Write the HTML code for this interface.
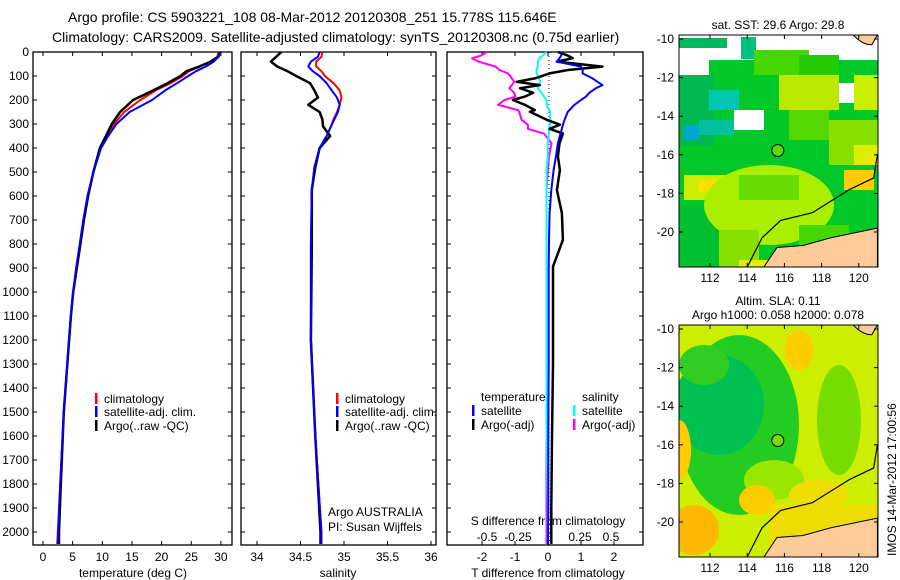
<!DOCTYPE html>
<html><head><meta charset="utf-8"><style>
html,body{margin:0;padding:0;background:#fff;}
svg{display:block;font-family:"Liberation Sans",sans-serif;}
</style></head><body>
<svg id="c" width="900" height="580" viewBox="0 0 900 580">
<text x="68" y="22" font-size="14">Argo profile: CS 5903221_108 08-Mar-2012 20120308_251 15.778S 115.646E</text>
<text x="52" y="42" font-size="14">Climatology: CARS2009. Satellite-adjusted climatology: synTS_20120308.nc (0.75d earlier)</text>
<g id="g"></g>
</svg>
<script>
// ---- data ----
const tDepth=[0,20,40,60,80,100,130,160,200,250,300,350,400,500,600,700,800,900,1000,1100,1200,1500,1800,2000,2050];
const tClim=[29.6,29.4,28.2,26.5,24.6,23.6,21.5,19,16.4,13.7,12.0,10.8,9.7,8.5,7.5,6.8,6.2,5.6,5.1,4.7,4.4,3.5,2.9,2.5,2.4];
const tSat=[29.8,29.6,28.8,27.5,25.8,24.5,22.6,20.6,18.4,14.6,12.4,11.0,9.8,8.5,7.5,6.8,6.2,5.6,5.1,4.7,4.4,3.5,2.9,2.6,2.5];
const tArgo=[29.8,29.6,28.3,26.4,24.2,23.2,21.0,18.6,15.2,13.0,11.6,10.6,9.6,8.5,7.6,6.9,6.3,5.7,5.1,4.7,4.4,3.5,3.0,2.7,2.7];
const sDepth=[0,20,40,60,80,100,130,160,190,220,250,280,310,350,400,480,575,800,1200,1600,2000,2050];
const sClim=[34.75,34.74,34.68,34.68,34.74,34.78,34.88,34.95,34.97,34.95,34.92,34.88,34.85,34.80,34.72,34.66,34.63,34.62,34.62,34.67,34.74,34.74];
const sSat=[34.72,34.70,34.62,34.59,34.64,34.72,34.80,34.86,34.92,34.95,34.93,34.89,34.85,34.80,34.72,34.66,34.63,34.62,34.62,34.67,34.74,34.74];
const sArgo=[34.28,34.22,34.16,34.23,34.35,34.45,34.61,34.66,34.70,34.59,34.72,34.75,34.76,34.84,34.72,34.67,34.63,34.63,34.62,34.67,34.73,34.73];
const dDepth=[0,15,26,40,61,75,89,110,124,138,151,170,186,200,220,242,249,283,303,320,340,380,436,492,575,672,783,894,1061,1300,1600,1900,2050];
const dtSat=[0.42,0.40,0.35,0.27,1.0,1.05,1.05,1.35,1.5,1.65,1.45,1.25,1.15,1.0,0.8,0.65,0.6,0.5,0.45,0.42,0.38,0.3,0.24,0.17,0.1,0.05,0.03,0.02,0.02,0.02,0.01,0.01,0.0];
const dtArgo=[0.3,0.6,0.75,0.27,1.65,0.6,0.05,-0.4,-0.95,-0.25,-0.85,-0.45,-0.7,-1.06,-0.7,-0.4,-0.55,-0.03,0.36,0.05,0.45,0.35,0.3,0.36,0.27,0.42,0.45,0.15,0.15,0.15,0.12,0.10,0.1];
const dsSat=[-0.02,-0.05,-0.08,-0.09,-0.09,-0.10,-0.10,-0.08,-0.07,-0.09,-0.09,-0.06,-0.04,-0.02,-0.02,0,0.01,0.01,0.01,0,0,-0.01,-0.01,-0.02,-0.02,-0.02,-0.02,-0.02,-0.02,-0.02,-0.02,-0.01,-0.01];
const dsArgo=[-0.50,-0.55,-0.62,-0.57,-0.43,-0.40,-0.33,-0.30,-0.28,-0.30,-0.32,-0.28,-0.27,-0.36,-0.41,-0.25,-0.24,-0.22,-0.17,-0.17,-0.04,0.02,0.0,-0.01,-0.02,-0.02,-0.02,-0.02,-0.02,-0.02,-0.02,-0.02,-0.02];
const depthTicks=[0,100,200,300,400,500,600,700,800,900,1000,1100,1200,1300,1400,1500,1600,1700,1800,1900,2000];
const tTicks=[0,5,10,15,20,25,30];
const sTicks=["34","34.5","35","35.5","36"];
const dtTicks=[-2,-1,0,1,2];
const dsTicks=["-0.5","-0.25","0","0.25","0.5"];
const latTicks=[-10,-12,-14,-16,-18,-20];
const lonTicks=[112,114,116,118,120];

const NS="http://www.w3.org/2000/svg";
const G=document.getElementById('g');
function mk(t,a,p){const e=document.createElementNS(NS,t);for(const k in a)e.setAttribute(k,a[k]);(p||G).appendChild(e);return e;}
const TOP=52,BOT=545;
const yD=d=>TOP+d*0.24;
const xT=v=>43+5.93*v;
const xS=v=>257+87*(v-34);
const xDT=v=>548+33*v;
const xDS=v=>549+124*v;

function panel(x0,x1,name){
  const r=mk('rect',{x:x0,y:TOP,width:x1-x0,height:BOT-TOP,fill:'none',stroke:'#000','stroke-width':1.3});
  
  
}
function line(xs,ds,fx,col,w,name){
  const pts=xs.map((v,i)=>fx(v).toFixed(1)+','+yD(ds[i]).toFixed(1)).join(' ');
  const p=mk('polyline',{points:pts,fill:'none',stroke:col,'stroke-width':w,'stroke-linejoin':'round'});
  
  
}
function txt(x,y,s,sz,anchor,name,extra){
  const t=mk('text',Object.assign({x:x,y:y,'font-size':sz,'text-anchor':anchor||'start'},extra||{}));
  t.textContent=s;
  
  
  return t;
}
panel(33,232,'temperature-panel');panel(241,436,'salinity-panel');panel(447,643,'difference-panel');
depthTicks.forEach(d=>{
  const y=yD(d);
  [[33,1],[232,-1],[241,1],[436,-1],[447,1],[643,-1]].forEach(([x,s])=>mk('line',{x1:x,y1:y,x2:x+4*s,y2:y,stroke:'#000'}));
  txt(29,y+4,String(d),12,'end','depth-tick-label');
});
tTicks.forEach(v=>{const x=xT(v);mk('line',{x1:x,y1:BOT,x2:x,y2:BOT-4,stroke:'#000'});mk('line',{x1:x,y1:TOP,x2:x,y2:TOP+4,stroke:'#000'});txt(x,561,String(v),12,'middle','temperature-tick-label');});
txt(133,577,'temperature (deg C)',12,'middle','temperature-axis-title');
sTicks.forEach(v=>{const x=xS(+v);mk('line',{x1:x,y1:BOT,x2:x,y2:BOT-4,stroke:'#000'});mk('line',{x1:x,y1:TOP,x2:x,y2:TOP+4,stroke:'#000'});txt(x,561,v,12,'middle','salinity-tick-label');});
txt(338,577,'salinity',12,'middle','salinity-axis-title');
dtTicks.forEach(v=>{const x=xDT(v);mk('line',{x1:x,y1:BOT,x2:x,y2:BOT-4,stroke:'#000'});mk('line',{x1:x,y1:TOP,x2:x,y2:TOP+4,stroke:'#000'});txt(x,561,String(v),12,'middle','t-diff-tick-label');});
dsTicks.forEach(v=>{txt(xDS(+v),541,v,12,'middle','s-diff-tick-label');});
txt(548,525,'S difference from climatology',12,'middle','s-diff-axis-title');
txt(548,577,'T difference from climatology',12,'middle','t-diff-axis-title');
mk('line',{x1:549,y1:TOP,x2:549,y2:BOT,stroke:'#000','stroke-dasharray':'1,3'});
line(tClim,tDepth,xT,'#ff0000',2,'temp-climatology-line');
line(tArgo,tDepth,xT,'#000',2.5,'temp-argo-line');
line(tSat,tDepth,xT,'#0000ff',2,'temp-satellite-line');
line(sClim,sDepth,xS,'#ff0000',2,'sal-climatology-line');
line(sArgo,sDepth,xS,'#000',2.5,'sal-argo-line');
line(sSat,sDepth,xS,'#0000ff',2,'sal-satellite-line');
line(dsArgo,dDepth,xDS,'#ff00ff',2,'s-diff-argo-line');
line(dsSat,dDepth,xDS,'#00ffff',2,'s-diff-satellite-line');
line(dtArgo,dDepth,xDT,'#000',2.5,'t-diff-argo-line');
line(dtSat,dDepth,xDT,'#0000ff',2,'t-diff-satellite-line');
function leg(x,y,col,label,name){if(col)mk('rect',{x:x-9,y:y-10,width:2.5,height:11,fill:col});txt(x,y,label,12,'start',name);}
leg(104,403,'#f00','climatology','legend-climatology');leg(104,416,'#00f','satellite-adj. clim.','legend-satellite');leg(104,430,'#000','Argo(..raw -QC)','legend-argo');
leg(345,403,'#f00','climatology','legend-climatology-2');leg(345,416,'#00f','satellite-adj. clim.','legend-satellite-2');leg(345,430,'#000','Argo(..raw -QC)','legend-argo-2');
leg(481,401,null,'temperature','legend-temperature');leg(481,415,'#00f','satellite','legend-t-satellite');leg(481,429,'#000','Argo(-adj)','legend-t-argo');
leg(582,401,null,'salinity','legend-salinity');leg(582,415,'#0ff','satellite','legend-s-satellite');leg(582,429,'#f0f','Argo(-adj)','legend-s-argo');
txt(328,516,'Argo AUSTRALIA',12,'start','argo-program-label');
txt(328,531,'PI: Susan Wijffels',12,'start','pi-label');

function map(y0,title1,title2,kind,name){
  const x0=679,x1=878,y1=y0+232,lat0=y0+4;
  const lx=v=>710+18.6*(v-112), ly=v=>lat0+19.3*(-10-v);
  const g=mk('g',{});
  const cp='cp'+y0;const c=mk('clipPath',{id:cp},g);mk('rect',{x:x0,y:y0,width:x1-x0,height:y1-y0},c);
  const inner=mk('g',{'clip-path':'url(#'+cp+')'},g);
  const R=(x,y,w,h,f)=>mk('rect',{x:x0+x,y:y0+y,width:w,height:h,fill:f},inner);
  const E=(x,y,rx,ry,f)=>mk('ellipse',{cx:x0+x,cy:y0+y,rx:rx,ry:ry,fill:f},inner);
  if(kind==='sst'){
    R(0,0,200,232,'#00c828');
    R(0,0,200,25,'#ffffff');R(0,25,30,25,'#ffffff');R(150,55,50,10,'#ffffff');
    R(0,3,48,10,'#00b860');R(62,2,15,22,'#00c080');
    R(75,15,55,25,'#44d800');R(120,20,40,20,'#22cc00');R(150,48,30,20,'#ffffff');
    R(0,40,35,70,'#00b850');R(30,55,30,20,'#00c8b0');R(20,85,35,15,'#00c0a0');R(5,90,15,15,'#00a8d0');
    R(100,40,60,35,'#bbe800');R(175,40,25,35,'#ccee00');R(110,75,40,30,'#55d800');
    R(55,75,30,20,'#ffffff');R(150,85,50,45,'#88e000');R(165,135,30,20,'#ffcc00');R(175,110,25,20,'#ddee00');
    R(5,140,50,25,'#ccee00');R(20,145,20,12,'#ffdd00');R(0,170,60,62,'#00c030');
    E(90,170,65,40,'#aaee00');R(60,140,60,25,'#66dd00');
    R(40,195,40,37,'#88e000');R(120,190,50,30,'#44d800');R(60,225,40,10,'#ddee00');
  }else{
    R(0,0,200,232,'#ccee00');
    E(60,100,60,90,'#22cc22');E(40,80,45,50,'#00c050');E(25,40,25,20,'#33cc22');
    E(0,125,12,30,'#ffcc00');E(165,90,12,40,'#33cc22');E(160,95,22,55,'#77dd00');
    E(120,25,14,20,'#ffcc00');E(95,155,30,20,'#99e600');
    E(78,175,18,15,'#ffcc00');E(15,205,25,25,'#ffb800');E(140,170,30,15,'#eedd00');
    R(90,180,110,55,'#eedd00');
  }
  mk('path',{d:`M${lx(114.9)},${y1} L${lx(115.6)},${ly(-20.8)} L${lx(117)},${ly(-20.7)} L${lx(118.5)},${ly(-20.3)} L${lx(121)},${ly(-19.8)} L${lx(121)},${y1} Z`,fill:'#ffcc99',stroke:'#000','stroke-width':1},inner);
  mk('path',{d:`M${lx(119.7)},${y0} Q${lx(120.2)},${ly(-10.3)} ${lx(120.7)},${ly(-10.3)} L${lx(121)},${y0} Z`,fill:'#ffcc99',stroke:'#000'},inner);
  mk('polyline',{points:`${lx(114)},${y1} ${lx(114.8)},${ly(-20.3)} ${lx(115.8)},${ly(-19.4)} ${lx(117.5)},${ly(-19)} ${lx(119.5)},${ly(-17.8)} ${lx(120.8)},${ly(-17.2)} ${lx(121)},${ly(-16)}`,fill:'none',stroke:'#000','stroke-width':1.2},inner);
  mk('circle',{cx:lx(115.646),cy:ly(-15.778),r:6,fill:kind==='sst'?'#55dd00':'#77dd00',stroke:'#000'},inner);
  mk('rect',{x:x0,y:y0,width:x1-x0,height:y1-y0,fill:'none',stroke:'#000'},g);
  latTicks.forEach(v=>{const y=ly(v);mk('line',{x1:x0,y1:y,x2:x0+4,y2:y,stroke:'#000'},g);mk('line',{x1:x1,y1:y,x2:x1-4,y2:y,stroke:'#000'},g);
    const t=txt(x0-5,y+4,String(v),12,'end','lat-tick-label');g.appendChild(t);});
  lonTicks.forEach(v=>{const x=lx(v);mk('line',{x1:x,y1:y0,x2:x,y2:y0+4,stroke:'#000'},g);mk('line',{x1:x,y1:y1,x2:x,y2:y1-4,stroke:'#000'},g);
    const t=txt(x,y1+15,String(v),12,'middle','lon-tick-label');g.appendChild(t);});
  if(title1)g.appendChild(txt(778,y0-(title2?20:6),title1,12,'middle','map-title'));
  if(title2)g.appendChild(txt(778,y0-6,title2,12,'middle','map-subtitle'));
}
map(35,'sat. SST: 29.6  Argo: 29.8',null,'sst','sst-map');
map(325,'Altim. SLA: 0.11','Argo h1000: 0.058 h2000: 0.078','sla','sla-map');
txt(0,0,'IMOS 14-Mar-2012 17:00:56',12,'start','imos-timestamp',{transform:'translate(896,556) rotate(-90)'});
</script>
</body></html>
